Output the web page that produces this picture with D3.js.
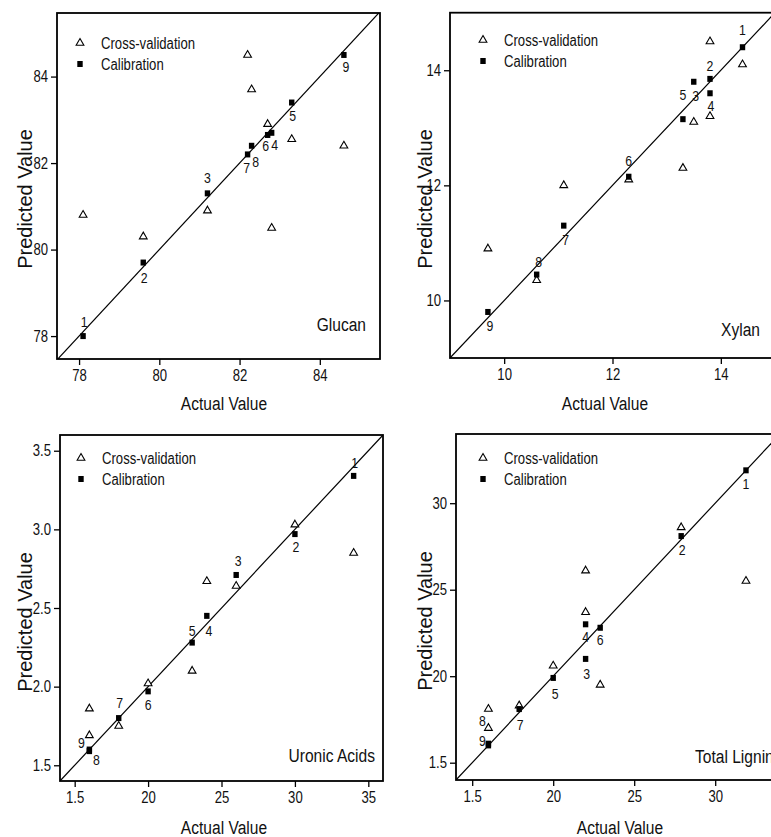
<!DOCTYPE html>
<html>
<head>
<meta charset="utf-8">
<script src="https://cdn.jsdelivr.net/npm/d3@7"></script>
<style>
  body { margin: 0; background: #fff; }
  svg { display: block; }
</style>
</head>
<body>
<div id="chart"></div>
<script>
// sample numbers 1..9 (same order in every array)
const sampleIds = [1, 2, 3, 4, 5, 6, 7, 8, 9];

// Glucan
const glucanActual = [78.1, 79.6, 81.2, 82.8, 83.3, 82.7, 82.2, 82.3, 84.6];
const glucanCalib  = [78.0, 79.7, 81.3, 82.7, 83.4, 82.65, 82.2, 82.4, 84.5];
const glucanCross  = [80.8, 80.3, 80.9, 80.5, 82.55, 82.9, 84.5, 83.7, 82.4];
const glucanTicks  = [78, 80, 82, 84];
const glucanLabels = ["78", "80", "82", "84"];

// Xylan
const xylanActual = [14.4, 13.8, 13.5, 13.8, 13.3, 12.3, 11.1, 10.6, 9.7];
const xylanCalib  = [14.4, 13.85, 13.8, 13.6, 13.15, 12.15, 11.3, 10.45, 9.8];
const xylanCross  = [14.1, 14.5, 13.1, 13.2, 12.3, 12.1, 12.0, 10.35, 10.9];
const xylanTicks  = [10, 12, 14];
const xylanLabels = ["10", "12", "14"];

// Uronic acids
const uronicActual  = [3.4, 3.0, 2.6, 2.4, 2.3, 2.0, 1.8, 1.6, 1.6];
const uronicCalib   = [3.34, 2.97, 2.71, 2.45, 2.28, 1.97, 1.80, 1.59, 1.60];
const uronicCross   = [2.85, 3.03, 2.64, 2.67, 2.10, 2.02, 1.75, 1.69, 1.86];
const uronicTicks   = [1.5, 2.0, 2.5, 3.0, 3.5];
const uronicXLabels = ["1.5", "20", "25", "30", "35"];
const uronicYLabels = ["1.5", "2.0", "2.5", "3.0", "3.5"];

// Total lignin
const ligninActual = [31.9, 27.9, 22.0, 22.0, 20.0, 22.9, 17.9, 16.0, 16.0];
const ligninCalib  = [31.9, 28.1, 21.0, 23.0, 19.9, 22.8, 18.1, 16.0, 16.1];
const ligninCross  = [25.5, 28.6, 26.1, 23.7, 20.6, 19.5, 18.3, 18.1, 17.0];
const ligninTicks  = [15, 20, 25, 30];
const ligninLabels = ["1.5", "20", "25", "30"];

const width = 771, height = 837;
const font = "'Liberation Sans', Arial, sans-serif";
const squeeze = 0.82; // the scanned type is narrow

// layout for each panel (frame in px, where the number labels sit, etc.)
const panels = [
    {
        name: "Glucan", actual: glucanActual, calib: glucanCalib, cross: glucanCross,
        ticks: glucanTicks, xLabels: glucanLabels, yLabels: glucanLabels,
        dx: [77.45, 85.5], dy: [77.47, 85.47],
        frame: { x0: 57, x1: 380, y0: 13, y1: 359 },
        legend: [80, 43], nameAt: [366, 331],
        yTitle: [32, 199], xTitle: [224, 410],
        offsets: [[1, -14], [1, 15], [0, -15], [3, 12], [1, 13], [-2, 11.5], [-1, 14], [4, 16], [2, 12]]
    },
    {
        name: "Xylan", actual: xylanActual, calib: xylanCalib, cross: xylanCross,
        ticks: xylanTicks, xLabels: xylanLabels, yLabels: xylanLabels,
        dx: [9, 15], dy: [9, 15],
        frame: { x0: 450, x1: 775, y0: 12.7, y1: 358 },
        legend: [483, 40], nameAt: [760, 336],
        yTitle: [432, 199], xTitle: [605, 410],
        offsets: [[0, -17], [0, -13], [2, 14], [1, 13], [0, -24], [0, -16], [2, 14], [2, -13], [2, 14]]
    },
    {
        name: "Uronic Acids", actual: uronicActual, calib: uronicCalib, cross: uronicCross,
        ticks: uronicTicks, xLabels: uronicXLabels, yLabels: uronicYLabels,
        dx: [1.4, 3.6], dy: [1.4, 3.6],
        frame: { x0: 60, x1: 383, y0: 435, y1: 781 },
        legend: [81, 458], nameAt: [375, 762],
        yTitle: [32, 622], xTitle: [224, 834],
        offsets: [[1, -13], [1, 13], [2, -14], [2, 15], [0, -12], [0, 14], [1, -15], [7, 9], [-8, -7]]
    },
    {
        name: "Total Lignin", actual: ligninActual, calib: ligninCalib, cross: ligninCross,
        ticks: ligninTicks, xLabels: ligninLabels, yLabels: ligninLabels,
        dx: [14, 34], dy: [14, 34],
        frame: { x0: 456, x1: 780, y0: 434, y1: 780 },
        legend: [483, 458], nameAt: [695, 763], nameStart: true,
        yTitle: [432, 621], xTitle: [620, 834],
        offsets: [[0, 14], [1, 14], [1, 15], [0, 13], [2, 16], [0, 12], [1, 16], [-6, -24], [-6, -3]]
    }
];

const svg = d3.select("#chart")
    .append("svg")
    .attr("width", width)
    .attr("height", height)
    .style("overflow", "hidden");

// narrow text placed at (x, y)
function narrowText(g, x, y, txt, size, anchor) {
    return g.append("text")
        .attr("transform", `translate(${x},${y}) scale(${squeeze},1)`)
        .attr("text-anchor", anchor || "start")
        .style("font-family", font)
        .style("font-size", size + "px")
        .attr("fill", "#111")
        .text(txt);
}

panels.forEach((p, pi) => {
    const f = p.frame;
    const x = d3.scaleLinear().domain(p.dx).range([f.x0, f.x1]);
    const y = d3.scaleLinear().domain(p.dy).range([f.y1, f.y0]);
    const g = svg.append("g");

    const clipId = "clip" + pi;
    svg.append("clipPath").attr("id", clipId)
        .append("rect")
        .attr("x", f.x0).attr("y", f.y0)
        .attr("width", f.x1 - f.x0).attr("height", f.y1 - f.y0);

    // Y axis
    const yAxis = g.append("g")
        .attr("transform", `translate(${f.x0},0)`)
        .call(d3.axisLeft(y).tickValues(p.ticks)
            .tickFormat(d => p.yLabels[p.ticks.indexOf(d)])
            .tickSize(6).tickPadding(2));
    // X axis
    const xAxis = g.append("g")
        .attr("transform", `translate(0,${f.y1})`)
        .call(d3.axisBottom(x).tickValues(p.ticks)
            .tickFormat(d => p.xLabels[p.ticks.indexOf(d)])
            .tickSize(6).tickPadding(5));
    [xAxis, yAxis].forEach(a => {
        a.select(".domain").remove();
        a.selectAll("line").attr("stroke", "#000").attr("stroke-width", 1.3);
        a.selectAll("text")
            .attr("fill", "#111")
            .attr("transform", `scale(${squeeze},1)`)
            .style("font-family", font)
            .style("font-size", "16px");
    });
    yAxis.selectAll("text").attr("x", -9 / squeeze);

    // frame
    g.append("rect")
        .attr("x", f.x0).attr("y", f.y0)
        .attr("width", f.x1 - f.x0).attr("height", f.y1 - f.y0)
        .attr("fill", "none")
        .attr("stroke", "#000")
        .attr("stroke-width", 1.8);

    // 1:1 line
    const lo = Math.min(p.dx[0], p.dy[0]), hi = Math.max(p.dx[1], p.dy[1]);
    g.append("line")
        .attr("clip-path", `url(#${clipId})`)
        .attr("x1", x(lo)).attr("y1", y(lo))
        .attr("x2", x(hi)).attr("y2", y(hi))
        .attr("stroke", "#000")
        .attr("stroke-width", 1.2);

    // cross-validation (open triangles)
    const tri = d3.symbol().type(d3.symbolTriangle).size(26);
    g.selectAll(".cv")
        .data(sampleIds)
        .enter().append("path")
        .attr("transform", (d, i) => `translate(${x(p.actual[i])},${y(p.cross[i])})`)
        .attr("d", tri)
        .attr("fill", "#fff")
        .attr("stroke", "#000")
        .attr("stroke-width", 1.1);

    // calibration (filled squares)
    g.selectAll(".cal")
        .data(sampleIds)
        .enter().append("rect")
        .attr("x", (d, i) => x(p.actual[i]) - 2.7)
        .attr("y", (d, i) => y(p.calib[i]) - 3)
        .attr("width", 5.4)
        .attr("height", 6)
        .attr("fill", "#000");

    // sample numbers
    sampleIds.forEach((d, i) => {
        narrowText(g, x(p.actual[i]) + p.offsets[i][0], y(p.calib[i]) + p.offsets[i][1] + 5,
            d, 15, "middle");
    });

    // legend
    const [lx, ly] = p.legend;
    g.append("path")
        .attr("transform", `translate(${lx},${ly})`)
        .attr("d", tri)
        .attr("fill", "#fff")
        .attr("stroke", "#000")
        .attr("stroke-width", 1.1);
    g.append("rect")
        .attr("x", lx - 2.7).attr("y", ly + 21 - 3)
        .attr("width", 5.4).attr("height", 6)
        .attr("fill", "#000");
    narrowText(g, lx + 21, ly + 6, "Cross-validation", 16);
    narrowText(g, lx + 21, ly + 27, "Calibration", 16);

    // component name
    narrowText(g, p.nameAt[0], p.nameAt[1], p.name, 19, p.nameStart ? "start" : "end");

    // axis titles
    g.append("text")
        .attr("transform", `translate(${p.yTitle[0]},${p.yTitle[1]}) rotate(-90)`)
        .attr("text-anchor", "middle")
        .style("font-family", font)
        .style("font-size", "20px")
        .attr("fill", "#111")
        .text("Predicted Value");
    narrowText(g, p.xTitle[0], p.xTitle[1], "Actual Value", 19, "middle");
});
</script>
</body>
</html>
